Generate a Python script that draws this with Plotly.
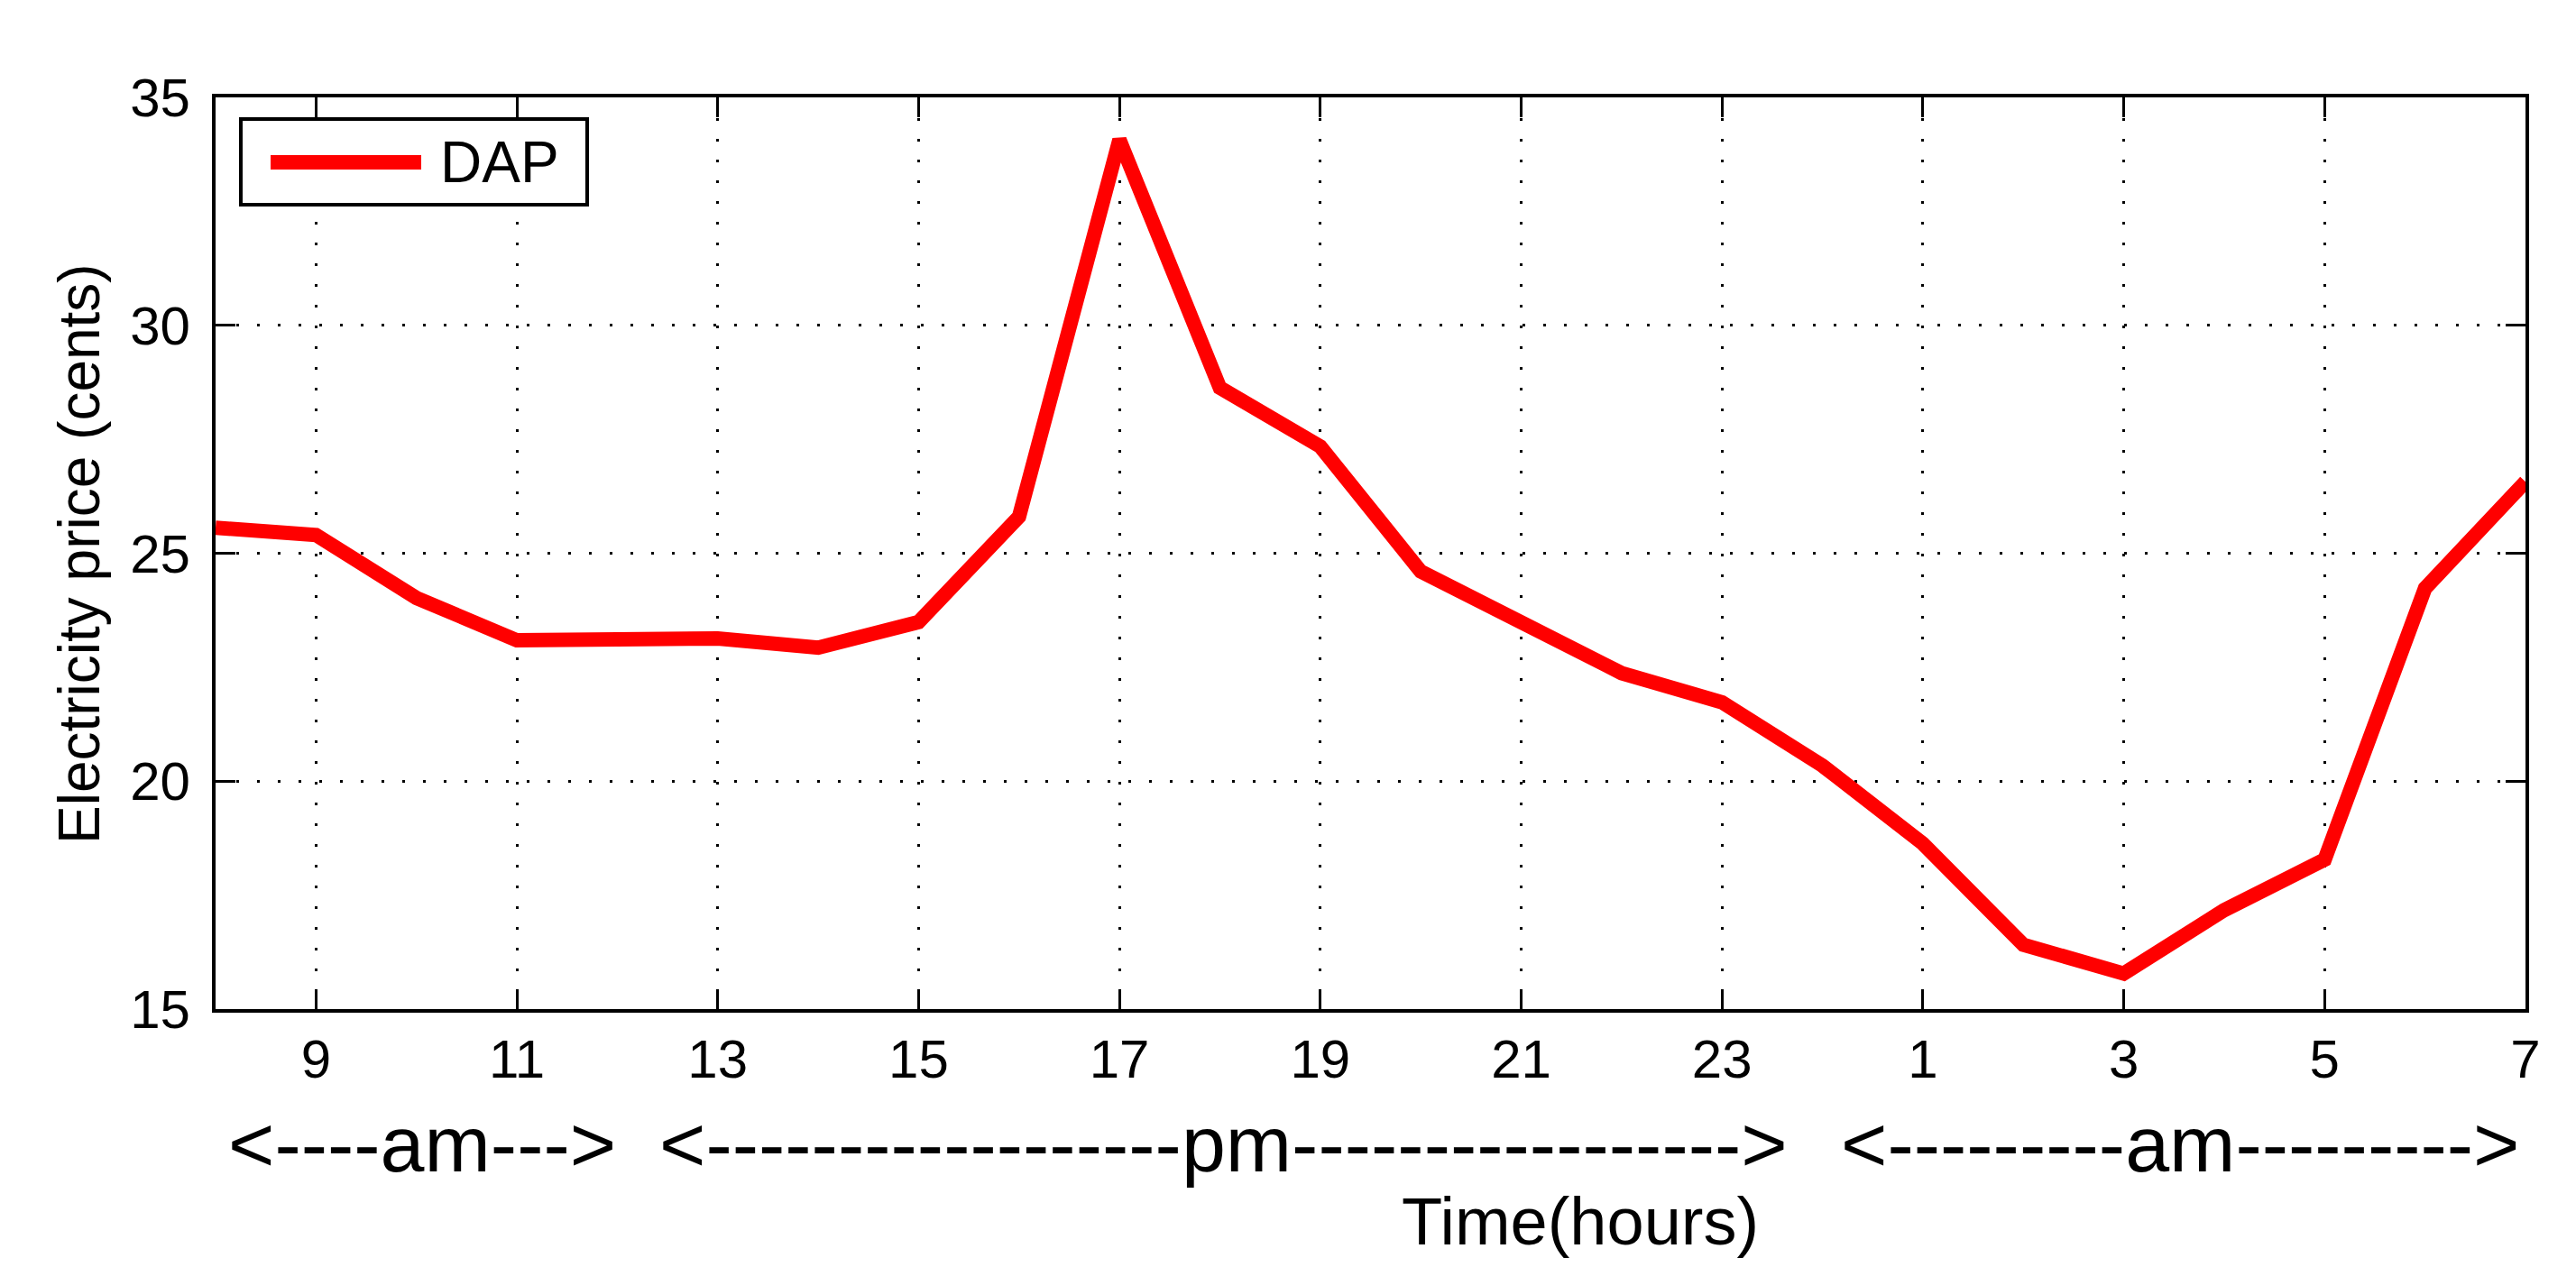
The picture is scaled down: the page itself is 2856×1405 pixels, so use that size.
import plotly.graph_objects as go

# ---- data ----
hours = list(range(8, 32))  # 8 am .. 7 am next day
price = [25.56, 25.4, 24.02, 23.09, 23.11, 23.13, 22.93, 23.49, 25.8, 34.07,
         28.63, 27.34, 24.6, 23.52, 22.37, 21.73, 20.34, 18.63, 16.41, 15.78,
         17.17, 18.28, 24.23, 26.57]
x_tickvals = [9, 11, 13, 15, 17, 19, 21, 23, 25, 27, 29, 31]
x_ticktext = ["9", "11", "13", "15", "17", "19", "21", "23", "1", "3", "5", "7"]
y_tickvals = [15, 20, 25, 30, 35]
period_labels = ["<----am--->", "<" + "-" * 18 + "pm" + "-" * 17 + ">", "<---------am--------->"]
series_name = "DAP"

# ---- layout geometry (pixels) ----
W, H = 2856, 1405
L, R, T, B = 231, 64, 100, 294
PW, PH = W - L - R, H - T - B
FONT = "Liberation Sans, Arial, Helvetica, sans-serif"


def px(x):
    return (x - L) / PW


def py(y):
    return (H - B - y) / PH


fig = go.Figure()
fig.add_trace(go.Scatter(x=hours, y=price, mode="lines", name=series_name,
                         line=dict(color="#ff0000", width=16), showlegend=False))

axis_common = dict(
    showline=True, linecolor="black", linewidth=4, mirror="ticks",
    ticks="inside", ticklen=22, tickwidth=3, tickcolor="black",
    showgrid=True, gridcolor="black", gridwidth=3, griddash="3px,20px",
    zeroline=False, tickfont=dict(family=FONT, size=60, color="black"),
)

fig.update_xaxes(range=[8, 31], tickmode="array", tickvals=x_tickvals, ticktext=x_ticktext,
                 ticklabelstandoff=0, **axis_common)
fig.update_yaxes(range=[15, 35], tickmode="array", tickvals=y_tickvals,
                 ticklabelstandoff=12, **axis_common)

annotations = []
# am/pm row
group_centers = [460, 1348, 2409]
for txt, cx in zip(period_labels, group_centers):
    annotations.append(dict(text=txt, x=px(cx), y=py(1260), xref="paper", yref="paper",
                            xanchor="center", yanchor="middle", showarrow=False,
                            font=dict(family=FONT, size=88, color="black")))
# x title
annotations.append(dict(text="Time(hours)", x=px(1744), y=py(1346), xref="paper", yref="paper",
                        xanchor="center", yanchor="middle", showarrow=False,
                        font=dict(family=FONT, size=74, color="black")))
# y title
annotations.append(dict(text="Electricity price (cents)", x=px(80), y=py(606), xref="paper",
                        yref="paper", xanchor="center", yanchor="middle", showarrow=False,
                        textangle=-90, font=dict(family=FONT, size=64, color="black")))
# legend text
annotations.append(dict(text=series_name, x=px(478), y=py(172), xref="paper", yref="paper",
                        xanchor="left", yanchor="middle", showarrow=False,
                        font=dict(family=FONT, size=64, color="black")))

shapes = [
    dict(type="rect", xref="paper", yref="paper", x0=px(259), x1=px(643), y0=py(219), y1=py(124),
         line=dict(color="black", width=4), fillcolor="white", layer="above"),
    dict(type="line", xref="paper", yref="paper", x0=px(292), x1=px(459), y0=py(172), y1=py(172),
         line=dict(color="#ff0000", width=16), layer="above"),
]

fig.update_layout(
    width=W, height=H,
    margin=dict(l=L, r=R, t=T, b=B),
    paper_bgcolor="white", plot_bgcolor="white",
    font=dict(family=FONT, color="black"),
    annotations=annotations, shapes=shapes,
    showlegend=False,
)

fig.write_html("out.html")
